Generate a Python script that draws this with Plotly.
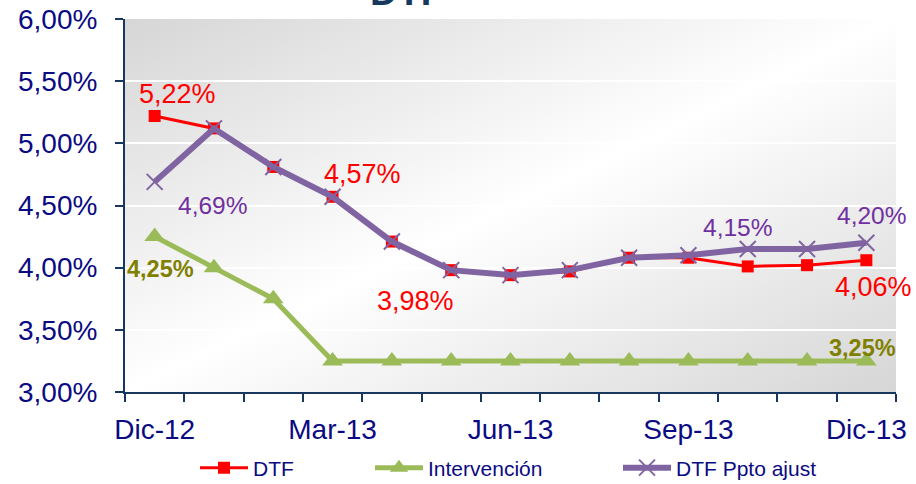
import base64
import plotly.graph_objects as go

# ---------------- data ----------------
months = ["Dic-12", "Ene-13", "Feb-13", "Mar-13", "Abr-13", "May-13", "Jun-13",
          "Jul-13", "Ago-13", "Sep-13", "Oct-13", "Nov-13", "Dic-13"]
dtf = [5.22, 5.12, 4.81, 4.57, 4.21, 3.98, 3.94, 3.97, 4.08, 4.08, 4.01, 4.02, 4.06]
intervencion = [4.25, 4.00, 3.75, 3.25, 3.25, 3.25, 3.25, 3.25, 3.25, 3.25, 3.25, 3.25, 3.25]
dtf_ppto = [4.69, 5.12, 4.81, 4.57, 4.21, 3.98, 3.94, 3.98, 4.08, 4.10, 4.15, 4.15, 4.20]
y_ticks = [3.00, 3.50, 4.00, 4.50, 5.00, 5.50, 6.00]

# ---------------- styles ----------------
FONT = "Arial, 'Liberation Sans', sans-serif"
NAVY = "#0a0a82"
AXIS = "#17375E"
RED = "#FF0000"
GREEN = "#9BBB59"
PURPLE = "#8064A2"
PURPLE_TXT = "#7030A0"
OLIVE = "#808000"

idx = list(range(len(months)))
frac = lambda s: [v / 100 for v in s]
fmt = lambda v: f"{v:.2f}".replace(".", ",") + "%"

fig = go.Figure()

fig.add_trace(go.Scatter(
    x=idx, y=frac(intervencion), name="Intervención", mode="lines+markers",
    line=dict(color=GREEN, width=5),
    marker=dict(symbol="triangle-up", size=18, color=GREEN),
    legend="legend2", showlegend=True))
fig.add_trace(go.Scatter(
    x=idx, y=frac(dtf), name="DTF", mode="lines+markers",
    line=dict(color=RED, width=3),
    marker=dict(symbol="square", size=12, color=RED),
    legend="legend", showlegend=True))
fig.add_trace(go.Scatter(
    x=idx, y=frac(dtf_ppto), name="DTF Ppto ajust", mode="lines+markers",
    line=dict(color=PURPLE, width=6),
    marker=dict(symbol="x-thin", size=16, line=dict(color=PURPLE, width=2)),
    legend="legend3", showlegend=True))

# data labels: (series, index, dx, dy, color, size, bold)
labels = [
    (dtf, 0, 23, -22, RED, 27, False),
    (dtf, 3, 30, -23, RED, 27, False),
    (dtf, 5, -36, 31, RED, 27, False),
    (dtf, 12, 7, 27, RED, 27, False),
    (dtf_ppto, 0, 58, 24, PURPLE_TXT, 24.5, False),
    (dtf_ppto, 10, -10, -22, PURPLE_TXT, 24.5, False),
    (dtf_ppto, 12, 5, -27, PURPLE_TXT, 24.5, False),
    (intervencion, 0, 6, 32, OLIVE, 23.5, True),
    (intervencion, 12, -4, -13, OLIVE, 23.5, True),
]
annotations = []
for series, i, dx, dy, col, sz, bold in labels:
    t = fmt(series[i])
    if bold:
        t = f"<b>{t}</b>"
    annotations.append(dict(
        x=idx[i], y=series[i] / 100, xref="x", yref="y", text=t, showarrow=False,
        xshift=dx, yshift=-dy, font=dict(family=FONT, size=sz, color=col)))

# cut-off title at the top
annotations.append(dict(
    x=(407 - 125) / 771, y=1, xref="paper", yref="paper", text="<b>DTF</b>",
    showarrow=False, xanchor="center", yanchor="bottom", yshift=4,
    font=dict(family=FONT, size=38, color=AXIS)))

# gradient plot background
svg = ('<svg xmlns="http://www.w3.org/2000/svg" width="200" height="100" preserveAspectRatio="none">'
       '<defs><linearGradient id="g" x1="0" y1="0" x2="1" y2="1">'
       '<stop offset="0" stop-color="#d6d6d6"/><stop offset="0.5" stop-color="#ffffff"/>'
       '<stop offset="1" stop-color="#d6d6d6"/></linearGradient></defs>'
       '<rect width="200" height="100" fill="url(#g)"/></svg>')
src = "data:image/svg+xml;base64," + base64.b64encode(svg.encode()).decode()

leg_y = (392 - 468) / 373
leg_common = dict(orientation="h", y=leg_y, xanchor="left", yanchor="middle", itemwidth=48,
                  font=dict(family=FONT, size=21, color=NAVY), bgcolor="rgba(0,0,0,0)")

fig.update_layout(
    width=916, height=484,
    margin=dict(l=125, r=20, t=19, b=92, autoexpand=False),
    paper_bgcolor="white", plot_bgcolor="rgba(0,0,0,0)",
    separators=",.",
    showlegend=True,
    images=[dict(source=src, xref="paper", yref="paper", x=0, y=1, sizex=1, sizey=1,
                 sizing="stretch", layer="below")],
    annotations=annotations,
    font=dict(family=FONT, color=NAVY),
    legend=dict(x=(195 - 125) / 771, **leg_common),
    legend2=dict(x=(370 - 125) / 771, **leg_common),
    legend3=dict(x=(618 - 125) / 771, **leg_common),
)

fig.update_xaxes(
    range=[-0.5, len(months) - 0.5], tickmode="array",
    tickvals=idx[::3], ticktext=months[::3],
    ticks="outside", ticklen=8, tickcolor="rgba(0,0,0,0)", ticklabelstandoff=3,
    tickfont=dict(family=FONT, size=28, color=NAVY),
    showline=True, linecolor=AXIS, linewidth=2, showgrid=False, zeroline=False,
    minor=dict(tickmode="array", tickvals=[i - 0.5 for i in range(len(months) + 1)],
               ticks="outside", ticklen=8, tickwidth=2, tickcolor=AXIS, showgrid=False),
)
fig.update_yaxes(
    range=[y_ticks[0] / 100, y_ticks[-1] / 100], tickmode="array",
    tickvals=[v / 100 for v in y_ticks], tickformat=".2%",
    ticks="outside", ticklen=8, tickwidth=2, tickcolor=AXIS, ticklabelstandoff=12,
    tickfont=dict(family=FONT, size=28, color=NAVY),
    showline=True, linecolor=AXIS, linewidth=2,
    showgrid=True, gridcolor="white", gridwidth=2, zeroline=False,
)

fig.write_html("out.html", config={"displayModeBar": False},
               post_script="document.body.style.margin='0px';")
